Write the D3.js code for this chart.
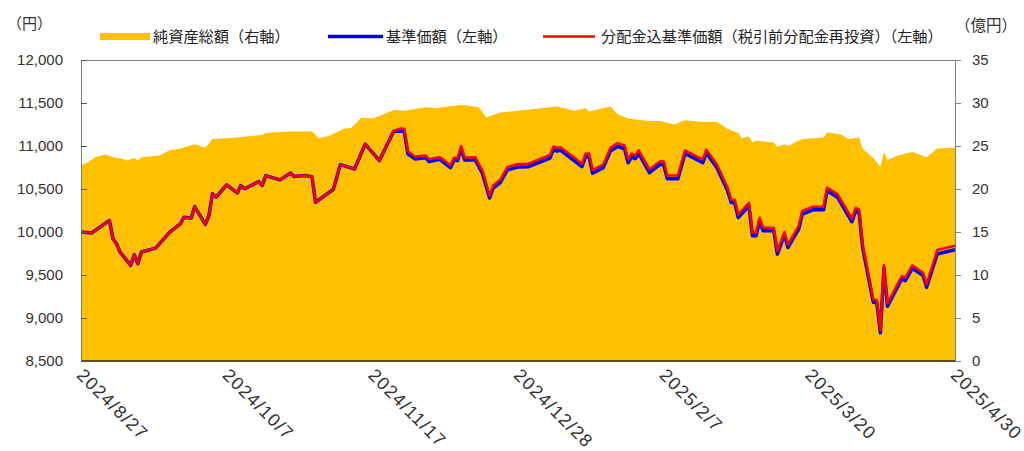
<!DOCTYPE html>
<html>
<head>
<meta charset="utf-8">
<script src="https://cdn.jsdelivr.net/npm/d3@7"></script>
<style>
  body { margin: 0; background: #fff; }
  text { font-family: "Liberation Sans", Arial, sans-serif; }
  .jp { font-family: "Noto Sans CJK JP", "Noto Sans", sans-serif; }
</style>
</head>
<body>
<script>
// 基準価額 / 分配金込基準価額 (円)
const navDates = [
  "2024-08-27","2024-08-30","2024-08-31","2024-09-04","2024-09-05","2024-09-06","2024-09-07","2024-09-10",
  "2024-09-11","2024-09-12","2024-09-13","2024-09-17","2024-09-21","2024-09-24","2024-09-25","2024-09-27",
  "2024-09-28","2024-10-01","2024-10-02","2024-10-03","2024-10-04","2024-10-07","2024-10-10","2024-10-11",
  "2024-10-12","2024-10-16","2024-10-17","2024-10-18","2024-10-22","2024-10-25","2024-10-26","2024-10-29",
  "2024-10-31","2024-11-01","2024-11-06","2024-11-08","2024-11-12","2024-11-15","2024-11-19","2024-11-21",
  "2024-11-23","2024-11-25","2024-11-26","2024-11-27","2024-11-29","2024-12-02","2024-12-03","2024-12-06",
  "2024-12-09","2024-12-10","2024-12-11","2024-12-12","2024-12-13","2024-12-16","2024-12-18","2024-12-20",
  "2024-12-21","2024-12-23","2024-12-25","2024-12-28","2024-12-31","2025-01-06","2025-01-07","2025-01-08",
  "2025-01-09","2025-01-15","2025-01-16","2025-01-17","2025-01-18","2025-01-21","2025-01-23","2025-01-25",
  "2025-01-27","2025-01-28","2025-01-29","2025-01-30","2025-01-31","2025-02-03","2025-02-06","2025-02-07",
  "2025-02-08","2025-02-11","2025-02-13","2025-02-18","2025-02-19","2025-02-22","2025-02-25","2025-02-26",
  "2025-02-27","2025-02-28","2025-03-03","2025-03-04","2025-03-05","2025-03-06","2025-03-07","2025-03-10",
  "2025-03-11","2025-03-13","2025-03-14","2025-03-17","2025-03-18","2025-03-21","2025-03-24","2025-03-25",
  "2025-03-28","2025-04-01","2025-04-02","2025-04-03","2025-04-04","2025-04-07","2025-04-08","2025-04-09",
  "2025-04-10","2025-04-11","2025-04-15","2025-04-16","2025-04-18","2025-04-21","2025-04-22","2025-04-25",
  "2025-04-30"
];
const nav = [
  10000, 9988,10018,10134, 9922, 9864, 9767, 9613,
   9737, 9632, 9767, 9813, 9999,10096,10172,10161,
  10296,10088,10192,10444,10404,10548,10455,10540,
  10502,10586,10540,10656,10606,10687,10644,10656,
  10644,10346,10494,10783,10733,11023,10830,11004,
  11170,11175,11165,10910,10850,10862,10818,10845,
  10748,10836,10830,10968,10838,10838,10680,10395,
  10510,10575,10722,10755,10760,10860,10958,10940,
  10950,10760,10875,10875,10683,10748,10940,10995,
  10968,10805,10875,10852,10912,10690,10786,10786,
  10620,10620,10912,10805,10920,10748,10478,10342,
  10340,10168,10304, 9956, 9956,10130,10014,10014,
   9744, 9965, 9821,10034,10208,10258,10258,10478,
  10400,10119,10246,10227, 9821, 9183, 9176, 8829,
   9580, 9137, 9454, 9435, 9577, 9493, 9357, 9744,
   9794
];
const navReinvested = [
  10000, 9988,10018,10134, 9922, 9864, 9767, 9613,
   9737, 9632, 9767, 9813, 9999,10096,10172,10161,
  10296,10088,10192,10444,10404,10548,10455,10540,
  10502,10586,10540,10656,10606,10687,10644,10656,
  10644,10346,10494,10783,10733,11023,10830,11004,
  11177,11205,11200,10940,10878,10890,10846,10873,
  10776,10864,10858,11000,10866,10870,10712,10425,
  10540,10607,10755,10790,10795,10897,10995,10977,
  10987,10797,10912,10912,10720,10785,10978,11033,
  11006,10843,10913,10890,10950,10728,10824,10824,
  10658,10658,10950,10843,10958,10786,10515,10378,
  10376,10204,10340, 9991, 9991,10166,10050,10050,
   9779,10000, 9856,10070,10245,10295,10295,10516,
  10438,10155,10283,10264, 9856, 9216, 9209, 8861,
   9615, 9170, 9488, 9469, 9612, 9527, 9391, 9790,
   9840
];

// 純資産総額 (億円)
const assetDates = [
  "2024-08-27","2024-08-29","2024-08-31","2024-09-03","2024-09-05","2024-09-08","2024-09-09","2024-09-11",
  "2024-09-12","2024-09-13","2024-09-18","2024-09-21","2024-09-24","2024-09-28","2024-10-01","2024-10-03",
  "2024-10-07","2024-10-10","2024-10-17","2024-10-18","2024-10-24","2024-10-31","2024-11-02","2024-11-05",
  "2024-11-09","2024-11-11","2024-11-14","2024-11-17","2024-11-19","2024-11-23","2024-11-26","2024-12-02",
  "2024-12-05","2024-12-08","2024-12-11","2024-12-12","2024-12-17","2024-12-19","2024-12-23","2024-12-28",
  "2025-01-08","2025-01-13","2025-01-16","2025-01-17","2025-01-22","2025-01-23","2025-01-25","2025-01-28",
  "2025-02-03","2025-02-06","2025-02-10","2025-02-13","2025-02-18","2025-02-22","2025-02-25","2025-02-28",
  "2025-03-01","2025-03-03","2025-03-04","2025-03-05","2025-03-10","2025-03-11","2025-03-13","2025-03-14",
  "2025-03-18","2025-03-24","2025-03-25","2025-03-29","2025-03-31","2025-04-03","2025-04-04","2025-04-07",
  "2025-04-09","2025-04-10","2025-04-11","2025-04-14","2025-04-18","2025-04-22","2025-04-25","2025-04-30"
];
const assets = [
  22.8,23.1,23.7,24.0,23.7,23.5,23.3,23.6,
  23.3,23.7,23.9,24.5,24.7,25.2,24.8,25.8,
  25.9,26.0,26.3,26.5,26.7,26.7,25.9,26.2,
  27.0,27.1,28.3,28.2,28.5,29.2,29.1,29.5,
  29.4,29.6,29.7,29.8,29.5,28.3,28.9,29.1,
  29.6,29.1,29.4,29.0,29.5,29.6,28.7,28.2,
  27.9,27.9,27.5,28.0,27.8,27.8,27.0,26.5,
  25.9,26.1,25.4,25.6,25.4,24.9,25.2,25.0,
  25.8,26.0,26.6,26.3,25.8,26.0,24.7,23.6,
  22.6,24.3,23.4,23.9,24.3,23.7,24.7,24.8
];

const xTickDates = ["2024-08-27","2024-10-07","2024-11-17","2024-12-28","2025-02-07","2025-03-20","2025-04-30"];
const leftTicks = [8500, 9000, 9500, 10000, 10500, 11000, 11500, 12000];
const rightTicks = [0, 5, 10, 15, 20, 25, 30, 35];
const seriesNames = ["純資産総額（右軸）", "基準価額（左軸）", "分配金込基準価額（税引前分配金再投資）（左軸）"];

const width = 1024, height = 451;
const plotLeft = 81, plotRight = 955, plotTop = 60, plotBottom = 361;
const parse = d3.timeParse("%Y-%m-%d");
const fmtDate = d3.timeFormat("%Y/%-m/%-d");

const svg = d3.select("body").append("svg")
  .attr("width", width)
  .attr("height", height);

const x = d3.scaleTime()
  .domain([parse(xTickDates[0]), parse(xTickDates[xTickDates.length - 1])])
  .range([plotLeft, plotRight]);
const yL = d3.scaleLinear().domain([8500, 12000]).range([plotBottom, plotTop]);
const yR = d3.scaleLinear().domain([0, 35]).range([plotBottom, plotTop]);

const navData = navDates.map((d, i) => ({ date: parse(d), nav: nav[i], re: navReinvested[i] }));
const assetData = assetDates.map((d, i) => ({ date: parse(d), v: assets[i] }));

// area
svg.append("path")
  .datum(assetData)
  .attr("fill", "#FFC000")
  .attr("d", d3.area()
    .x(d => x(d.date))
    .y0(plotBottom)
    .y1(d => yR(d.v)));

// lines
svg.append("path")
  .datum(navData)
  .attr("fill", "none")
  .attr("stroke", "#0000FF")
  .attr("stroke-width", 3.5)
  .attr("stroke-linejoin", "round")
  .attr("d", d3.line().x(d => x(d.date)).y(d => yL(d.nav)));

svg.append("path")
  .datum(navData)
  .attr("fill", "none")
  .attr("stroke", "#FF0000")
  .attr("stroke-width", 2.5)
  .attr("stroke-linejoin", "round")
  .attr("d", d3.line().x(d => x(d.date)).y(d => yL(d.re)));

// frame
svg.append("line")
  .attr("x1", plotLeft).attr("x2", plotRight)
  .attr("y1", plotTop + 0.5).attr("y2", plotTop + 0.5)
  .attr("stroke", "#808080");
svg.append("line")
  .attr("x1", plotLeft).attr("x2", plotRight)
  .attr("y1", plotBottom).attr("y2", plotBottom)
  .attr("stroke", "#5e4c1a")
  .attr("stroke-width", 2);

// left axis (ticks inside)
const gL = svg.append("g")
  .attr("transform", `translate(${plotLeft},0)`)
  .call(d3.axisLeft(yL).tickValues(leftTicks).tickSizeInner(-6).tickSizeOuter(0).tickPadding(18)
    .tickFormat(d3.format(",")));
gL.select(".domain").attr("stroke", "#808080");
gL.selectAll(".tick line").attr("stroke", "#555");
gL.selectAll("text").attr("font-size", 15).attr("fill", "#333")
  .attr("font-family", "Liberation Sans, Arial, sans-serif");

// right axis
const gR = svg.append("g")
  .attr("transform", `translate(${plotRight},0)`)
  .call(d3.axisRight(yR).tickValues(rightTicks).tickSizeInner(6).tickSizeOuter(0).tickPadding(11));
gR.select(".domain").attr("stroke", "#808080");
gR.selectAll(".tick line").attr("stroke", "#808080");
gR.selectAll("text").attr("font-size", 15).attr("fill", "#333")
  .attr("font-family", "Liberation Sans, Arial, sans-serif");

// x labels, rotated
svg.append("g")
  .selectAll("text")
  .data(xTickDates)
  .join("text")
  .attr("transform", d => `translate(${x(parse(d)) + 5},366) rotate(45)`)
  .attr("dy", "0.8em")
  .attr("font-size", 18)
  .attr("letter-spacing", 1.3)
  .attr("fill", "#333")
  .text(d => fmtDate(parse(d)));

// unit labels
svg.append("text").attr("class", "jp")
  .attr("x", 7).attr("y", 29)
  .attr("font-size", 15).attr("fill", "#333")
  .text("（円）");
svg.append("text").attr("class", "jp")
  .attr("x", 955).attr("y", 31)
  .attr("font-size", 15.5).attr("fill", "#333")
  .text("（億円）");

// legend
const legend = [
  { name: seriesNames[0], color: "#FFC000", x1: 100, x2: 150, w: 7, tx: 153 },
  { name: seriesNames[1], color: "#0000FF", x1: 328, x2: 383, w: 3.5, tx: 386 },
  { name: seriesNames[2], color: "#FF0000", x1: 543, x2: 595, w: 2.5, tx: 601 }
];
const lg = svg.append("g");
lg.selectAll("line")
  .data(legend)
  .join("line")
  .attr("x1", d => d.x1).attr("x2", d => d.x2)
  .attr("y1", 36.5).attr("y2", 36.5)
  .attr("stroke", d => d.color)
  .attr("stroke-width", d => d.w);
lg.selectAll("text")
  .data(legend)
  .join("text")
  .attr("class", "jp")
  .attr("x", d => d.tx)
  .attr("y", 42)
  .attr("font-size", 15.2)
  .attr("fill", "#222")
  .text(d => d.name);
</script>
</body>
</html>
